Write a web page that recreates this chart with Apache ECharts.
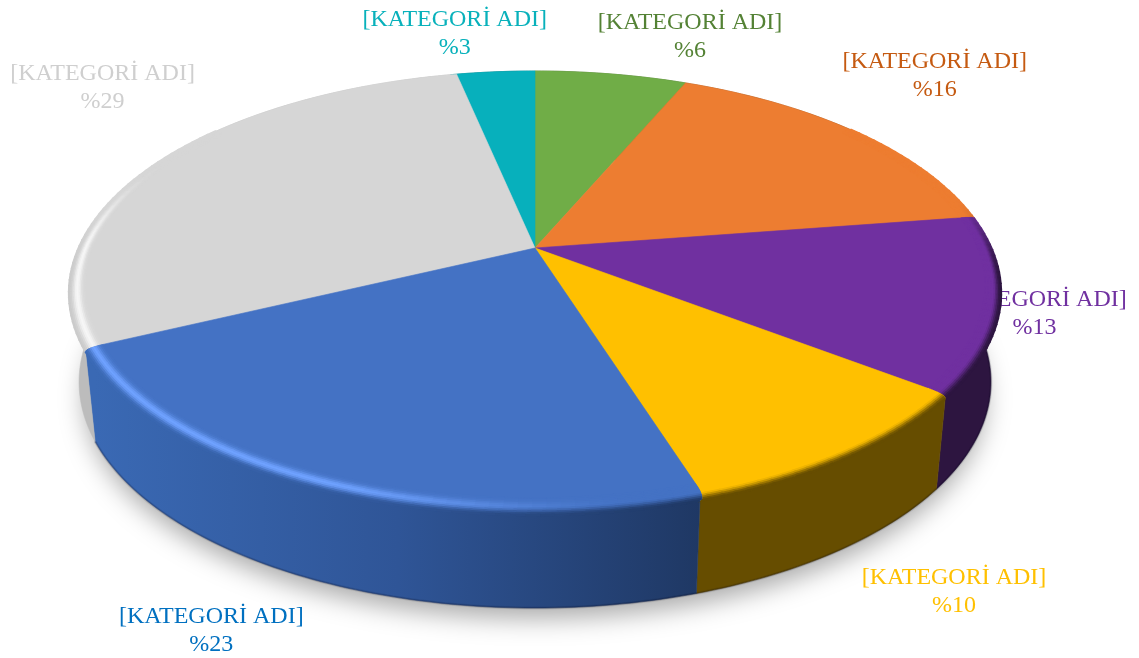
<!DOCTYPE html>
<html><head><meta charset="utf-8">
<style>html,body{margin:0;padding:0;background:#fff}#c{width:1139px;height:658px}</style>
<script src="https://cdn.jsdelivr.net/npm/echarts@6/dist/echarts.min.js"></script>
</head><body><div id="c"></div>
<script>
// --- data ---
const categories = ['[KATEGORİ ADI]','[KATEGORİ ADI]','[KATEGORİ ADI]','[KATEGORİ ADI]','[KATEGORİ ADI]','[KATEGORİ ADI]','[KATEGORİ ADI]'];
const values = [6.4, 16.2, 12.8, 9.7, 22.8, 28.8, 3.3];
// --- styling ---
const topColors   = ['#70ad47','#ed7d31','#7030a0','#ffc000','#4472c4','#d6d6d6','#07b0bc'];
const wallColors  = ['#43682b','#8e4b1d','#2d1540','#664d00','#2f5597','#bcbcbc','#046a71'];
const lightColors = ['#70ad47','#ed7d31','#7030a0','#ffc000','#6fa2ff','#f6f6f6','#07b0bc'];
const labelColors = ['#548235','#c55a11','#7030a0','#ffc000','#0070c0','#cfcfcf','#08b1bb'];
const labelOffsets = [[79,-37],[79,-56],[34,10],[104.5,135],[-101,143],[-57,-73.5],[-41,-38]];
const stackOrder  = [0,0,1,2,3,1,0];
const footStrength= [1,1,1,1,1,0,1];
const blueWallStops = [['#3a69b4',0],['#2f5597',.5],['#1f3864',1]];
// --- geometry of the tilted disc ---
const apex = {x:535, y:248}, K = 0.2027, A = 212.9, B = 456.3;
const topE = {x:535, y:293, rx:466, ry:222}, botE = {x:535, y:382, rx:456, ry:226};
const BEVEL = 0.05, LAYERS = 11, CORNER = 0.7*Math.PI/180, K0 = 0.955;
const WALL_X0 = botE.x-440, WALL_X1 = botE.x+165;

const total = values.reduce((a,b)=>a+b,0);
const rad = d => d*Math.PI/180;
function rim(th, r){ const u=r*Math.sin(th), v=-r*Math.cos(th), d=1-K*v; return [apex.x+B*u/d, apex.y+A*v/d]; }
function low(th){ const p=rim(th,1); return [botE.x+(p[0]-topE.x)*botE.rx/topE.rx, botE.y+(p[1]-topE.y)*botE.ry/topE.ry]; }
function arc(a,b,f,step){ const n=Math.max(2,Math.ceil((b-a)/step)), o=[]; for(let i=0;i<=n;i++) o.push(f(a+(b-a)*i/n)); return o; }
const hex = c => [1,3,5].map(i=>parseInt(c.substr(i,2),16));
function mixRgb(a,b,t){ return a.map((v,i)=>v+(b[i]-v)*t); }
const css = c => 'rgb('+c.map(Math.round).join(',')+')';
const sm = (a,b,x)=>{ const t=Math.min(1,Math.max(0,(x-a)/(b-a))); return t*t*(3-2*t); };
function blueWallAt(x){
  const t=Math.min(1,Math.max(0,(x-WALL_X0)/(WALL_X1-WALL_X0)));
  return t<.5 ? mixRgb(hex(blueWallStops[0][0]),hex(blueWallStops[1][0]),t*2)
              : mixRgb(hex(blueWallStops[1][0]),hex(blueWallStops[2][0]),(t-.5)*2);
}
function cut(k){ if(k<=K0) return 0; const q=Math.min(1,(k-K0)/(1-K0)); return CORNER*(1-Math.sqrt(1-q*q)); }
const edgeFade = t => sm(-.3,.1,-Math.cos(t));
const bandScale = t => .55+.45*Math.max(0,-Math.cos(t));

function renderItem(params, api){
  const i = params.dataIndex, val = api.value(0), N = values.length;
  let before = 0; for(let j=0;j<i;j++) before += values[j];
  const a = before/total*2*Math.PI, b = (before+val)/total*2*Math.PI, mid=(a+b)/2;
  const kids = [];
  if(i===0){
    kids.push({type:'ellipse', z2:0, shape:{cx:botE.x, cy:botE.y, rx:botE.rx-6, ry:botE.ry-6},
      style:{fill:'#cccccc', shadowBlur:26, shadowColor:'rgba(0,0,0,0.34)', shadowOffsetY:16}});
  }
  // label, sits behind the disc
  const m = rim(mid,1), off = labelOffsets[i];
  kids.push({type:'text', z2:1, style:{x:m[0]+off[0], y:m[1]+off[1], text:categories[i]+'\n%'+Math.round(val), align:'center', verticalAlign:'middle',
    textAlign:'center', textVerticalAlign:'middle', font:'24px "Liberation Serif"', lineHeight:28, fill:labelColors[i]}});
  const prev = stackOrder[(i+N-1)%N], next = stackOrder[(i+1)%N], me = stackOrder[i];
  // side wall, its edges follow the softened corner of whichever face lies on top
  const wa = a+(prev>me?-1:prev<me?1:0)*CORNER*edgeFade(a), wb = b+(next>me?1:next<me?-1:0)*CORNER*edgeFade(b);
  const upper = arc(wa,wb,t=>rim(t,1),rad(1)), lower = arc(wa,wb,low,rad(1)).reverse();
  let wallFill = wallColors[i];
  if(i===4) wallFill = {type:'linear', x:WALL_X0, y:0, x2:WALL_X1, y2:0, global:true,
    colorStops:blueWallStops.map(s=>({color:s[0],offset:s[1]}))};
  kids.push({type:'polygon', z2:2, shape:{points:upper.concat(lower)}, style:{fill:wallFill, stroke:wallFill, lineWidth:.5}});
  const foot = arc(wa,wb,low,rad(1));
  if(footStrength[i]) [[3,.09],[1.5,.18]].forEach(p=>{
    kids.push({type:'polyline', z2:3, shape:{points:foot}, style:{fill:null, stroke:'rgba(0,0,20,'+p[1]+')', lineWidth:p[0]}});
  });
  // top face: higher stack order lies over its neighbours and softens its outer corners
  const lo = k => prev>me ? a-CORNER*1.3 : (prev<me ? a+cut(k)*edgeFade(a) : a);
  const hi_ = k => next>me ? b+CORNER*1.3 : (next<me ? b-cut(k)*edgeFade(b) : b);
  const lift = me*.1;
  const sweep = [];
  for(let q=0;q<=10;q++){ const k=K0+(1-K0)*q/10; sweep.push(k); }
  const face = [[apex.x,apex.y]];
  sweep.forEach(k=>face.push(rim(lo(k),k)));
  arc(lo(1),hi_(1),t=>rim(t,1),rad(.5)).forEach(p=>face.push(p));
  sweep.slice().reverse().forEach(k=>face.push(rim(hi_(k),k)));
  kids.push({type:'polygon', z2:4+lift, shape:{points:face}, style:{fill:topColors[i], stroke:topColors[i], lineWidth:.6}});
  // rounded rim band, only on the side facing the viewer
  const base = hex(topColors[i]), wall0 = hex(wallColors[i]), lite = hex(lightColors[i]);
  for(let l=0;l<LAYERS;l++){
    const f=l/(LAYERS-1), nom=1-BEVEL*f, s0=lo(nom), s1=hi_(nom);
    const n=Math.max(1,Math.ceil((s1-s0)/rad(1.5)));
    for(let s=0;s<n;s++){
      const t0=s0+(s1-s0)*s/n, t1=s0+(s1-s0)*(s+1)/n, tm=(t0+t1)/2, v=-Math.cos(tm);
      const te=Math.min(s1,t1+rad(.35));
      const front = sm(-.62,-.12,v), darkFront = sm(-.25,.15,v)*(i===5?.45:1);
      if(front<=0) continue;
      const deg = tm*180/Math.PI;
      const hiAmt = sm(168,205,deg)*(1-sm(268,298,deg));
      const wall = i===4 ? blueWallAt(rim(tm,1)[0]) : wall0;
      const dark = darkFront*(1-sm(0,.5,f));
      const glow = front*hiAmt*Math.exp(-Math.pow((f-.5)/.26,2));
      const c = mixRgb(mixRgb(base,wall,dark),lite,glow);
      const p0=rim(t0,1-BEVEL*f*bandScale(t0)), p1=rim(te,1-BEVEL*f*bandScale(te));
      kids.push({type:'line', z2:4+lift+.01+(LAYERS-l)*.001+s*1e-6, shape:{x1:p0[0],y1:p0[1],x2:p1[0],y2:p1[1]},
        style:{stroke:css(c), lineWidth:2.4, lineCap:'butt'}});
    }
  }
  return {type:'group', children:kids};
}
const chart = echarts.init(document.getElementById('c'), null, {renderer:'canvas'});
chart.setOption({
  animation:false, backgroundColor:'#ffffff',
  series:[{type:'custom', coordinateSystem:'none', silent:true, clip:false, renderItem:renderItem,
    data:values.map((v,i)=>({name:categories[i], value:[v]}))}]
});
</script></body></html>
